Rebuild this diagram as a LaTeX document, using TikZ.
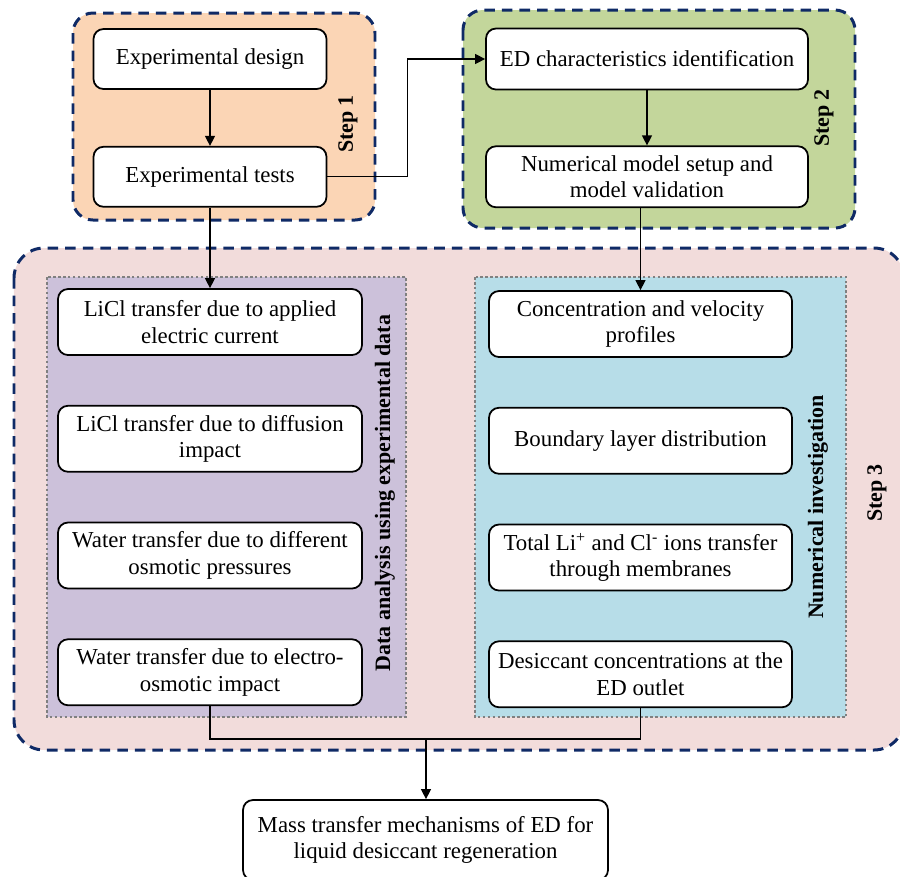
\documentclass[tikz,border=0pt]{standalone}
\usepackage{fontspec}
\setmainfont{Liberation Serif}
\usetikzlibrary{positioning,arrows.meta}

\definecolor{navyline}{HTML}{0F2A66}
\definecolor{stepone}{HTML}{FBD5B5}
\definecolor{steptwo}{HTML}{C3D69B}
\definecolor{stepthree}{HTML}{F2DCDB}
\definecolor{datagroup}{HTML}{CCC1DA}
\definecolor{numgroup}{HTML}{B7DDE8}

\tikzset{
	block/.style={draw=black, line width=1pt, rounded corners=0.2cm, fill=white,
		align=center, inner sep=2pt, font=\fontsize{13}{15.2}\selectfont},
	stepframe/.style={draw=navyline, line width=1.7pt, dash pattern=on 6pt off 4pt},
	groupframe/.style={draw=gray, line width=1.5pt, dash pattern=on 1.5pt off 1.3pt},
	steplabel/.style={rotate=90, font=\fontsize{12.5}{14}\selectfont\bfseries},
	link/.style={draw=black, line width=0.75pt},
	arrow/.style={link, -{Triangle[length=0.2cm, width=0.2cm]}},
}

\begin{document}
\begin{tikzpicture}
	\useasboundingbox (0,0) rectangle (18,-17.54);
	
	% frames
	\draw[stepframe, fill=stepone, rounded corners=0.4cm] (1.46,-0.26) rectangle (7.5,-4.4);
	\draw[stepframe, fill=steptwo, rounded corners=0.4cm] (9.26,-0.2) rectangle (17.1,-4.56);
	\draw[stepframe, fill=stepthree, rounded corners=0.6cm] (0.28,-4.96) rectangle (18.08,-15.0);
	\draw[groupframe, fill=datagroup] (0.94,-5.54) rectangle (8.12,-14.34);
	\draw[groupframe, fill=numgroup] (9.5,-5.54) rectangle (16.92,-14.34);
	
	\node[steplabel] (s1) at (6.96,-2.48) {Step 1};
	\node[steplabel] (s2) at (16.48,-2.36) {Step 2};
	\node[steplabel] (s3) at (17.54,-9.86) {Step 3};
	\node[steplabel] (datalabel) at (7.7,-9.86) {Data analysis using experimental data};
	\node[steplabel] (numlabel) at (16.36,-10.14) {Numerical investigation};
	
	% step 1 and 2
	\node[block, minimum width=4.66cm, minimum height=1.2cm] (design) at (4.2,-1.18) {Experimental design};
	\node[block, minimum width=4.66cm, minimum height=1.2cm, below=1.12cm of design] (tests) {Experimental tests};
	\node[block, minimum width=6.44cm, minimum height=1.22cm] (edchar) at (12.94,-1.18) {ED characteristics identification};
	\node[block, minimum width=6.44cm, minimum height=1.22cm, below=1.1cm of edchar] (model) {Numerical model setup and\\model validation};
	
	% step 3, experimental data
	\node[block, minimum width=6.08cm, minimum height=1.32cm] (c1) at (4.2,-6.44) {LiCl transfer due to applied\\electric current};
	\node[block, minimum width=6.08cm, minimum height=1.32cm, below=0.98cm of c1] (c2) {LiCl transfer due to diffusion\\impact};
	\node[block, minimum width=6.08cm, minimum height=1.32cm, below=0.98cm of c2] (c3) {Water transfer due to different\\osmotic pressures};
	\node[block, minimum width=6.08cm, minimum height=1.32cm, below=0.98cm of c3] (c4) {Water transfer due to electro-\\osmotic impact};
	
	% step 3, numerical
	\node[block, minimum width=6.06cm, minimum height=1.32cm] (r1) at (12.81,-6.48) {Concentration and velocity\\profiles};
	\node[block, minimum width=6.06cm, minimum height=1.32cm, below=0.98cm of r1] (r2) {Boundary layer distribution};
	\node[block, minimum width=6.06cm, minimum height=1.32cm, below=0.98cm of r2] (r3) {Total Li\textsuperscript{+} and Cl\textsuperscript{-} ions transfer\\through membranes};
	\node[block, minimum width=6.06cm, minimum height=1.32cm, below=0.98cm of r3] (r4) {Desiccant concentrations at the\\ED outlet};
	
	\node[block, minimum width=7.3cm, minimum height=1.6cm] (final) at (8.51,-16.8) {Mass transfer mechanisms of ED for\\liquid desiccant regeneration};
	
	\coordinate (merge) at (8.52,-14.78);
	
	% connectors
	\draw[arrow] (design) -- (tests);
	\draw[arrow] (tests.south) -- (c1.north);
	\draw[arrow] (tests.east) -- ++(1.6,0) |- (edchar.west);
	\draw[arrow] (edchar) -- (model);
	\draw[arrow] (model.south -| r1.north) -- (r1.north);
	\draw[link] (c4.south) |- (merge) -| (r4.south);
	\draw[arrow] (merge) -- (merge |- final.north);
\end{tikzpicture}
\end{document}
